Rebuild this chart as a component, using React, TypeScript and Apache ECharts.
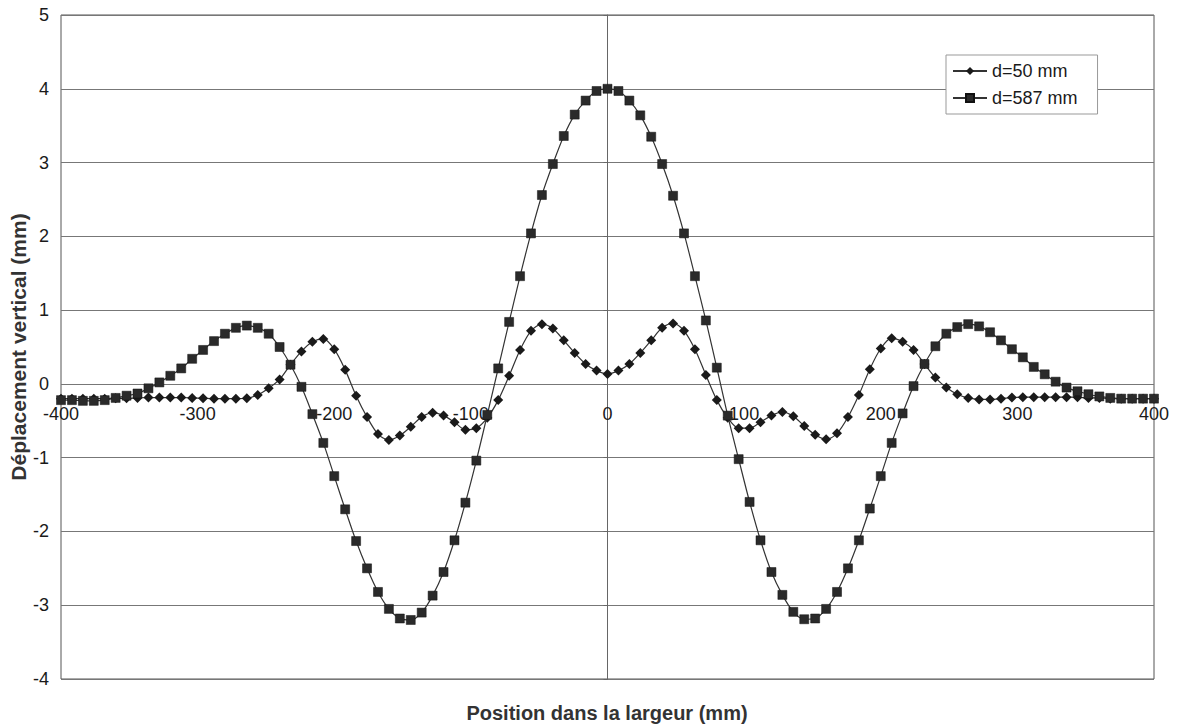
import React, { useEffect, useRef } from "react";
import * as echarts from "echarts";

const positions = [
  -400, -392, -384, -376, -368, -360, -352, -344, -336, -328,
  -320, -312, -304, -296, -288, -280, -272, -264, -256, -248,
  -240, -232, -224, -216, -208, -200, -192, -184, -176, -168,
  -160, -152, -144, -136, -128, -120, -112, -104, -96, -88,
  -80, -72, -64, -56, -48, -40, -32, -24, -16, -8,
  0,
  8, 16, 24, 32, 40, 48, 56, 64, 72, 80,
  88, 96, 104, 112, 120, 128, 136, 144, 152, 160,
  168, 176, 184, 192, 200, 208, 216, 224, 232, 240,
  248, 256, 264, 272, 280, 288, 296, 304, 312, 320,
  328, 336, 344, 352, 360, 368, 376, 384, 392, 400,
];

const d50 = [
  -0.2, -0.2, -0.2, -0.2, -0.2, -0.195, -0.195, -0.19, -0.185, -0.185,
  -0.185, -0.185, -0.19, -0.195, -0.2, -0.2, -0.2, -0.195, -0.15, -0.06,
  0.06, 0.26, 0.44, 0.57, 0.61, 0.47, 0.19, -0.16, -0.45, -0.68,
  -0.76, -0.7, -0.58, -0.45, -0.39, -0.43, -0.52, -0.62, -0.6, -0.46,
  -0.22, 0.11, 0.46, 0.72, 0.81, 0.75, 0.59, 0.42, 0.27, 0.18,
  0.135,
  0.18, 0.27, 0.42, 0.59, 0.76, 0.82, 0.72, 0.47, 0.12, -0.22,
  -0.46, -0.6, -0.6, -0.52, -0.43, -0.38, -0.44, -0.57, -0.69, -0.75,
  -0.67, -0.45, -0.15, 0.2, 0.48, 0.62, 0.57, 0.46, 0.27, 0.085,
  -0.05, -0.14, -0.19, -0.21, -0.21, -0.2, -0.185, -0.18, -0.18, -0.18,
  -0.18, -0.18, -0.18, -0.19, -0.19, -0.2, -0.2, -0.2, -0.2, -0.2,
];

const d587 = [
  -0.22, -0.22, -0.23, -0.23, -0.22, -0.19, -0.16, -0.13, -0.06, 0.02,
  0.11, 0.21, 0.34, 0.46, 0.58, 0.68, 0.76, 0.79, 0.76, 0.68,
  0.5, 0.26, -0.04, -0.41, -0.8, -1.25, -1.7, -2.13, -2.5, -2.82,
  -3.05, -3.18, -3.2, -3.1, -2.87, -2.55, -2.12, -1.61, -1.04, -0.42,
  0.21, 0.84, 1.46, 2.04, 2.56, 2.98, 3.36, 3.65, 3.84, 3.97,
  4.0,
  3.97, 3.84, 3.64, 3.35, 2.98, 2.55, 2.04, 1.46, 0.86, 0.22,
  -0.43, -1.02, -1.6, -2.12, -2.55, -2.86, -3.09, -3.19, -3.18, -3.05,
  -2.82, -2.5, -2.12, -1.69, -1.25, -0.8, -0.4, -0.03, 0.27, 0.51,
  0.68, 0.77, 0.81, 0.78, 0.7, 0.59, 0.47, 0.36, 0.23, 0.13,
  0.03, -0.05, -0.1, -0.14, -0.17, -0.19, -0.2, -0.2, -0.2, -0.2,
];

const seriesNames = ["d=50 mm", "d=587 mm"];
const xTitle = "Position dans la largeur (mm)";
const yTitle = "Déplacement vertical (mm)";

const FONT = "'Liberation Sans', Arial, sans-serif";

export default function App() {
  const ref = useRef<HTMLDivElement>(null);
  useEffect(() => {
    if (!ref.current) return;
    const chart = echarts.init(ref.current, null, { renderer: "svg" });
    const pair = (ys: number[]) => positions.map((x, i) => [x, ys[i]]);
    chart.setOption({
      animation: false,
      backgroundColor: "#fff",
      textStyle: { fontFamily: FONT },
      grid: {
        left: 61,
        right: 24,
        top: 15,
        bottom: 49,
        show: true,
        borderColor: "#555",
        borderWidth: 1,
        backgroundColor: "transparent",
      },
      xAxis: {
        type: "value",
        min: -400,
        max: 400,
        interval: 100,
        axisLine: { show: false, onZero: false },
        axisTick: { show: false },
        axisLabel: { fontSize: 18, color: "#1a1a1a", margin: -274, fontFamily: FONT },
        splitLine: { show: false },
      },
      yAxis: {
        type: "value",
        min: -4,
        max: 5,
        interval: 1,
        axisLine: { onZero: true, lineStyle: { color: "#666", width: 1 } },
        axisTick: { show: true, length: 4, lineStyle: { color: "#666" } },
        axisLabel: { fontSize: 18, color: "#1a1a1a", margin: 12, fontFamily: FONT },
        splitLine: { show: true, lineStyle: { color: "#777", width: 1 } },
      },
      legend: {
        orient: "vertical",
        left: 946,
        top: 55,
        padding: [7, 20, 7, 6],
        itemGap: 9,
        itemWidth: 34,
        itemHeight: 10,
        backgroundColor: "#fff",
        borderColor: "#999",
        borderWidth: 1,
        borderRadius: 0,
        textStyle: { fontSize: 18, color: "#1a1a1a", fontFamily: FONT },
        data: seriesNames,
      },
      graphic: [
        {
          type: "text",
          x: 18,
          y: 347,
          rotation: Math.PI / 2,
          style: {
            text: yTitle,
            font: `bold 21px ${FONT}`,
            fill: "#333",
            align: "center",
            verticalAlign: "middle",
          },
        },
        {
          type: "text",
          x: 607,
          y: 713,
          style: {
            text: xTitle,
            font: `bold 20px ${FONT}`,
            fill: "#333",
            align: "center",
            verticalAlign: "middle",
          },
        },
      ],
      series: [
        {
          name: seriesNames[0],
          type: "line",
          data: pair(d50),
          symbol: "diamond",
          symbolSize: 10,
          smooth: 0.3,
          lineStyle: { color: "#333", width: 1.2 },
          itemStyle: { color: "#1a1a1a" },
          z: 3,
        },
        {
          name: seriesNames[1],
          type: "line",
          data: pair(d587),
          symbol: "rect",
          symbolSize: 9,
          smooth: 0.3,
          lineStyle: { color: "#333", width: 1.2 },
          itemStyle: { color: "#2a2a2a", borderColor: "#111", borderWidth: 0.5 },
          z: 4,
        },
      ],
    });
    return () => chart.dispose();
  }, []);
  return (
    <div
      ref={ref}
      style={{ position: "fixed", left: 0, top: 0, width: 1178, height: 728 }}
    />
  );
}
